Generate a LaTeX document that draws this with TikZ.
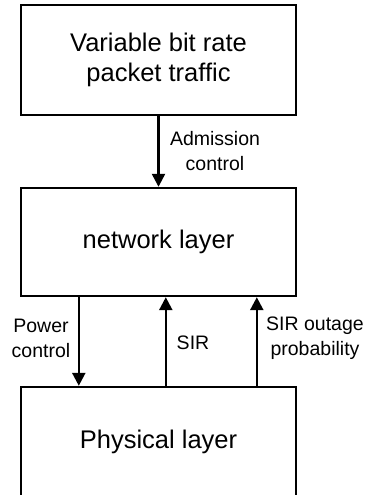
\documentclass[tikz,border=0pt]{standalone}
\usepackage{fontspec}
\setmainfont{Liberation Sans}
\usetikzlibrary{arrows.meta,calc}
\begin{document}
\begin{tikzpicture}[x=1pt,y=-1pt,
  box/.style={draw,line width=2.4pt,minimum width=275pt,minimum height=110pt,inner sep=0pt,
    font=\fontsize{25.5}{30}\selectfont,align=center},
  arr/.style={line width=2.4pt,-{Triangle[width=13pt,length=13pt]}},
  lbl/.style={font=\fontsize{19.5}{25}\selectfont,align=center,inner sep=0pt}]
\useasboundingbox (0,0) rectangle (369,495);
\clip (0,0) rectangle (369,495);
\node[box] (top) at (158.5,60) {Variable bit rate\\packet traffic};
\node[box,minimum height=108pt] (net) at (158.5,242) {network layer};
\node[box] (phys) at (158.5,442) {Physical layer};
\coordinate (pcS) at ($(net.south west)+(59,0)$);
\coordinate (sirS) at ($(phys.north west)+(146,0)$);
\coordinate (outS) at ($(phys.north west)+(237,0)$);
\draw[arr] (top.south) -- (top.south |- net.north);
\draw[arr] (pcS) -- (pcS |- phys.north);
\draw[arr] (sirS) -- (sirS |- net.south);
\draw[arr] (outS) -- (outS |- net.south);
\node[lbl] (adm) at (215,151) {Admission\\control};
\node[lbl] (pc) at (41,338) {Power\\control};
\node[lbl] (sir) at (193,343) {SIR};
\node[lbl] (out) at (315,338) {SIR outage\\probability};
\end{tikzpicture}
\end{document}
